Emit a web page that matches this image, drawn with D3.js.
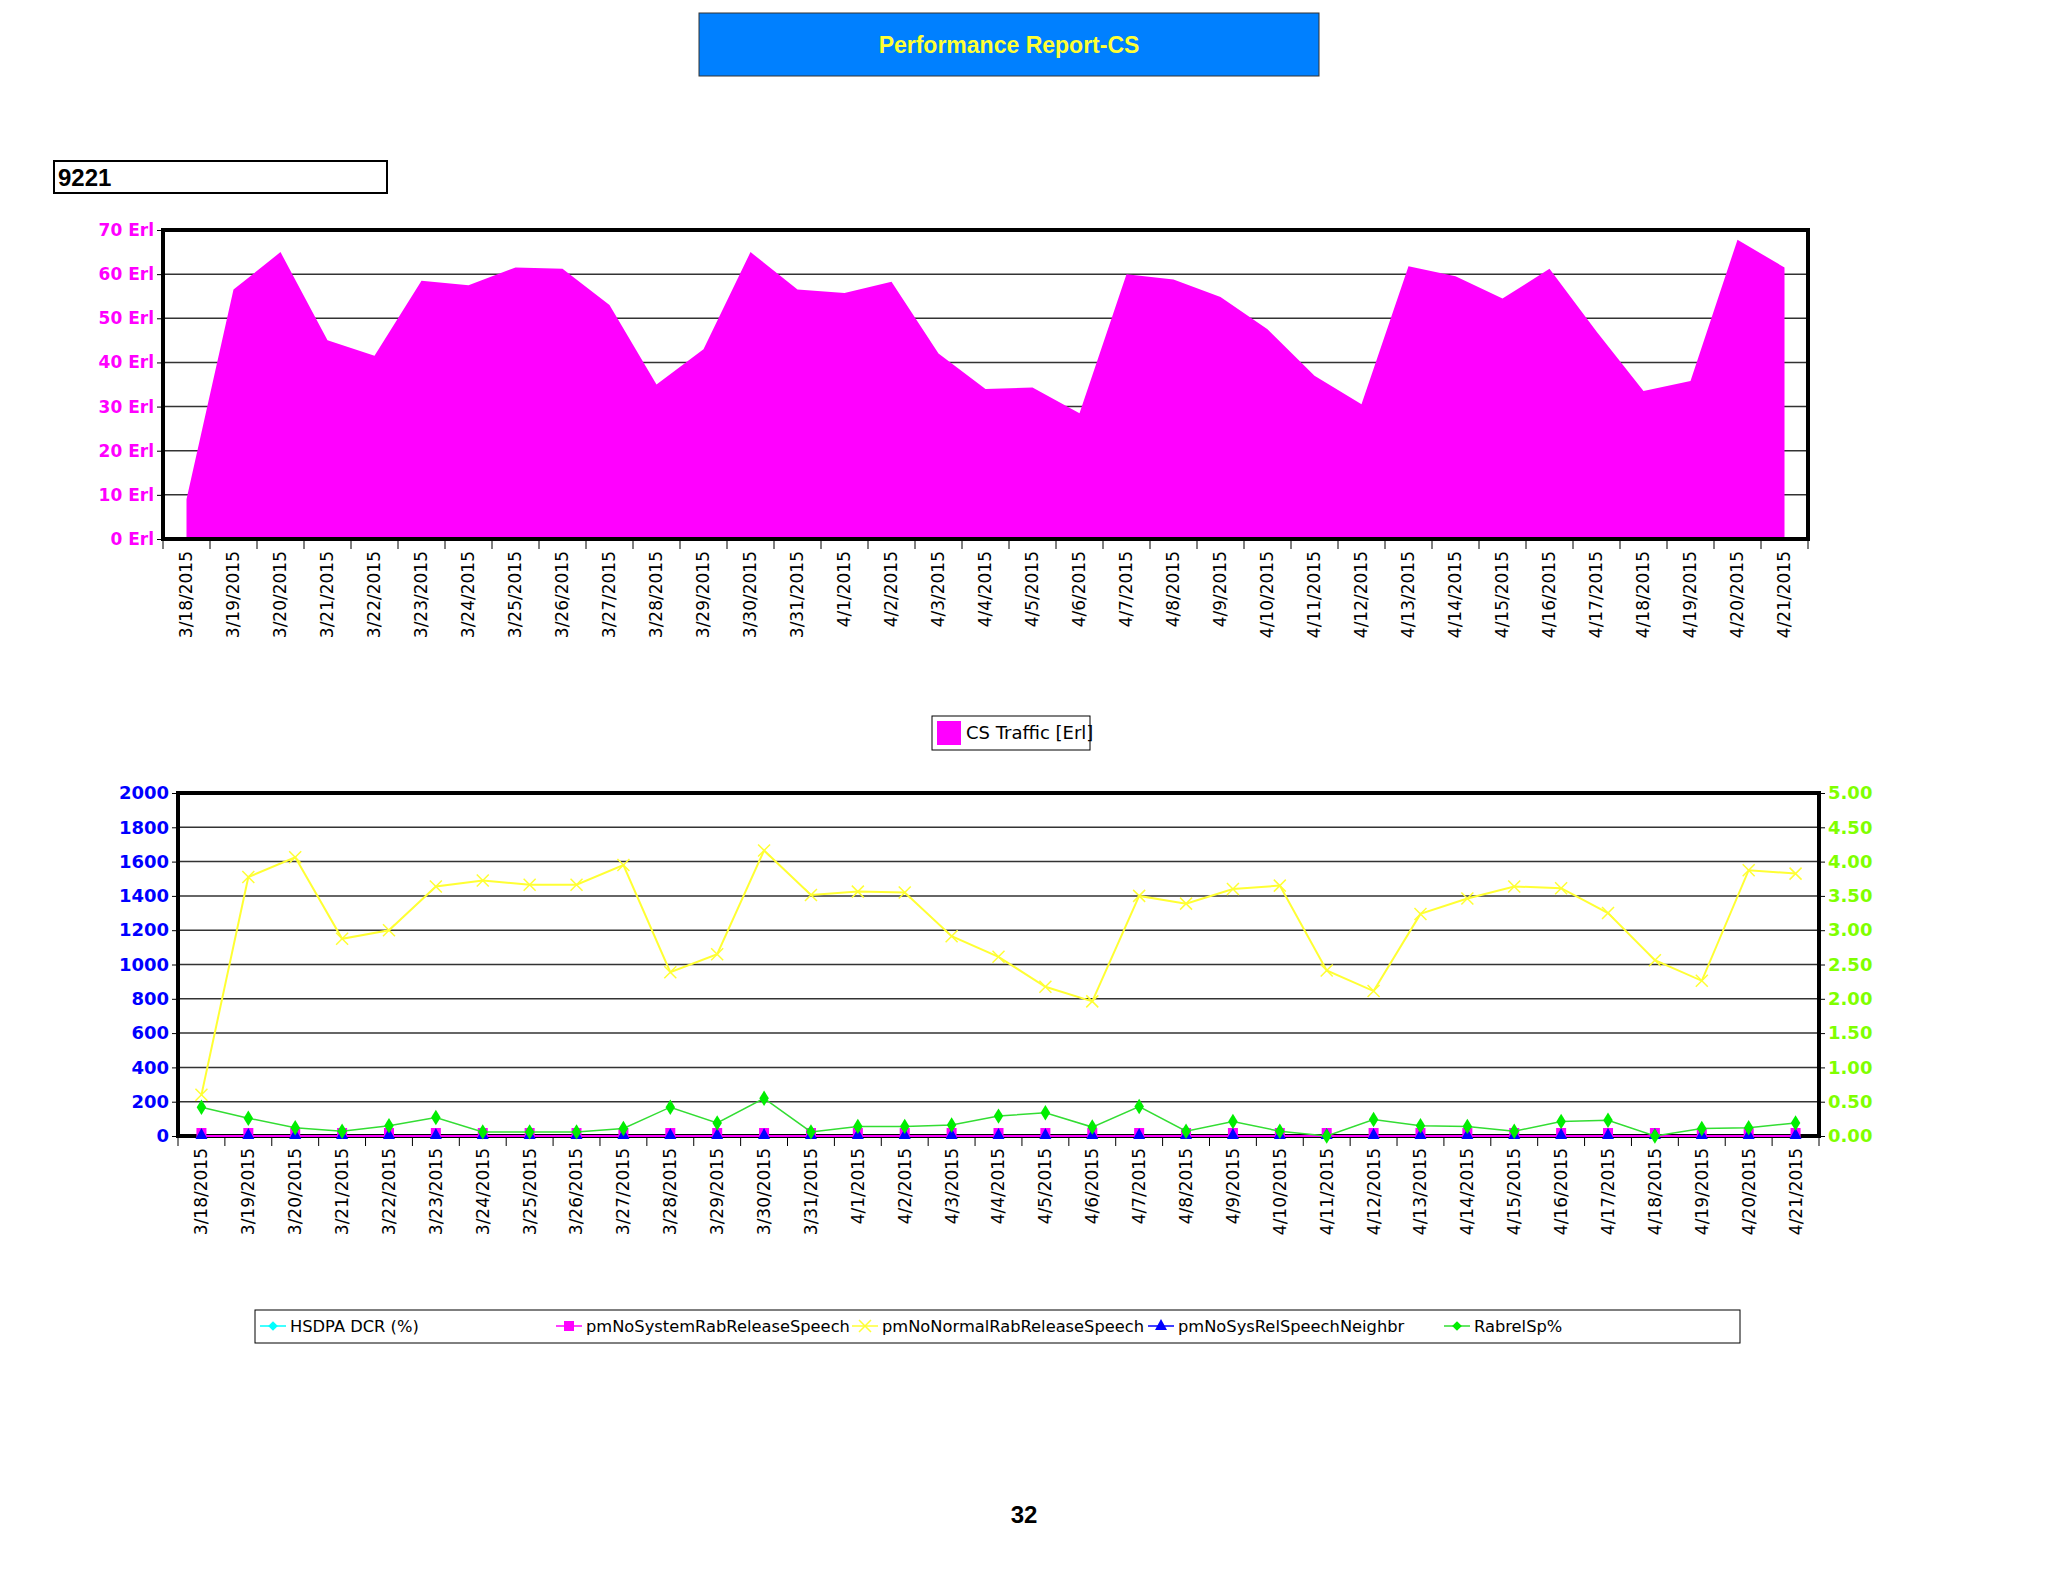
<!DOCTYPE html>
<html><head><meta charset="utf-8">
<script src="https://cdn.jsdelivr.net/npm/d3@7"></script>
<style>body{margin:0;background:#fff}</style></head>
<body><svg id="c" width="2048" height="1582"></svg>
<script>
const dates=["3/18/2015","3/19/2015","3/20/2015","3/21/2015","3/22/2015","3/23/2015","3/24/2015","3/25/2015","3/26/2015","3/27/2015","3/28/2015","3/29/2015","3/30/2015","3/31/2015","4/1/2015","4/2/2015","4/3/2015","4/4/2015","4/5/2015","4/6/2015","4/7/2015","4/8/2015","4/9/2015","4/10/2015","4/11/2015","4/12/2015","4/13/2015","4/14/2015","4/15/2015","4/16/2015","4/17/2015","4/18/2015","4/19/2015","4/20/2015","4/21/2015"];
const csTraffic=[9,56.5,65,45,41.5,58.5,57.5,61.5,61.2,53,35,43,65,56.5,55.7,58.3,42,34,34.3,28.5,60,58.8,54.8,47.5,37,30.5,61.8,59.5,54.5,61.2,47,33.5,35.8,67.8,61.5];
const normalRel=[240,1510,1625,1150,1200,1455,1490,1465,1465,1580,955,1060,1665,1405,1425,1420,1165,1045,870,785,1400,1355,1440,1460,965,845,1295,1385,1455,1445,1300,1025,905,1550,1530];
const rabrelSp=[0.42,0.26,0.12,0.07,0.15,0.27,0.06,0.06,0.06,0.11,0.42,0.19,0.55,0.06,0.14,0.14,0.16,0.29,0.34,0.13,0.43,0.07,0.21,0.07,0.0,0.24,0.15,0.14,0.07,0.21,0.23,0.0,0.11,0.12,0.19];
const sysRel=dates.map(()=>0);
const sysRelNeigh=dates.map(()=>0);
const topTicks=[0,10,20,30,40,50,60,70];
const leftTicks=[0,200,400,600,800,1000,1200,1400,1600,1800,2000];
const rightTicks=[0,0.5,1,1.5,2,2.5,3,3.5,4,4.5,5];

const svg=d3.select("#c");
svg.append("rect").attr("x",699).attr("y",13).attr("width",620).attr("height",63).attr("fill","#0080ff").attr("stroke","#333");
svg.append("text").attr("x",1009).attr("y",53).attr("text-anchor","middle").attr("fill","#ffff33").attr("font-family","Liberation Sans,Arial").attr("font-weight","bold").attr("font-size",23).text("Performance Report-CS");
svg.append("rect").attr("x",54).attr("y",161).attr("width",333).attr("height",32).attr("fill","#fff").attr("stroke","#000").attr("stroke-width",2);
svg.append("text").attr("x",58).attr("y",186).attr("font-family","Liberation Sans,Arial").attr("font-weight","bold").attr("font-size",24).text("9221");

const L1=163,R1=1808,T1=230,B1=539;
const x1=d3.scaleBand().domain(dates).range([L1,R1]);
const y1=d3.scaleLinear().domain([0,70]).range([B1,T1]);
const g1=svg.append("g");
g1.selectAll(".gl").data(topTicks).join("line").attr("x1",L1).attr("x2",R1).attr("y1",d=>y1(d)).attr("y2",d=>y1(d)).attr("stroke","#333").attr("stroke-width",1.5);
g1.append("path").datum(csTraffic).attr("fill","#ff00ff").attr("d",d3.area().x((d,i)=>x1(dates[i])+x1.bandwidth()/2).y0(B1).y1(d=>y1(d)));
g1.append("rect").attr("x",L1).attr("y",T1).attr("width",R1-L1).attr("height",B1-T1).attr("fill","none").attr("stroke","#000").attr("stroke-width",4);
const ay1=g1.append("g").attr("transform",`translate(${L1},0)`).call(d3.axisLeft(y1).tickValues(topTicks).tickFormat(d=>d+" Erl").tickSize(6));
ay1.selectAll("text").attr("fill","#ff00ff").attr("font-family","Verdana,DejaVu Sans").attr("font-weight","bold").attr("font-size",17);
ay1.select(".domain").remove();
const ax1=g1.append("g").attr("transform",`translate(0,${B1})`).call(d3.axisBottom(x1).tickSize(0));
ax1.select(".domain").remove();
ax1.selectAll("text").attr("transform","rotate(-90)").attr("text-anchor","end").attr("x",-12).attr("y",0).attr("dy","0.35em").attr("font-family","DejaVu Sans").attr("font-size",17).attr("fill","#000");
g1.selectAll(".tk").data(dates.concat(["end"])).join("line").attr("x1",(d,i)=>L1+i*x1.step()).attr("x2",(d,i)=>L1+i*x1.step()).attr("y1",B1).attr("y2",B1+10).attr("stroke","#000");

svg.append("rect").attr("x",932).attr("y",716).attr("width",158).attr("height",34).attr("fill","#fff").attr("stroke","#000");
svg.append("rect").attr("x",937).attr("y",721).attr("width",24).attr("height",24).attr("fill","#ff00ff");
svg.append("text").attr("x",966).attr("y",739).attr("font-family","DejaVu Sans").attr("font-size",18).text("CS Traffic [Erl]");

const L2=178,R2=1819,T2=793,B2=1136;
const x2=d3.scaleBand().domain(dates).range([L2,R2]);
const cx=d=>x2(d)+x2.bandwidth()/2;
const y2=d3.scaleLinear().domain([0,2000]).range([B2,T2]);
const y3=d3.scaleLinear().domain([0,5]).range([B2,T2]);
const g2=svg.append("g");
g2.selectAll(".gl").data(leftTicks).join("line").attr("x1",L2).attr("x2",R2).attr("y1",d=>y2(d)).attr("y2",d=>y2(d)).attr("stroke","#333").attr("stroke-width",1.5);
g2.append("rect").attr("x",L2).attr("y",T2).attr("width",R2-L2).attr("height",B2-T2).attr("fill","none").attr("stroke","#000").attr("stroke-width",4);
const ay2=g2.append("g").attr("transform",`translate(${L2},0)`).call(d3.axisLeft(y2).tickValues(leftTicks).tickFormat(d3.format("d")).tickSize(6));
ay2.select(".domain").remove();
ay2.selectAll("text").attr("fill","#0000ff").attr("font-family","Verdana,DejaVu Sans").attr("font-weight","bold").attr("font-size",18);
const ay3=g2.append("g").attr("transform",`translate(${R2},0)`).call(d3.axisRight(y3).tickValues(rightTicks).tickFormat(d3.format(".2f")).tickSize(6));
ay3.select(".domain").remove();
ay3.selectAll("text").attr("fill","#80ff00").attr("font-family","Verdana,DejaVu Sans").attr("font-weight","bold").attr("font-size",18);
const ax2=g2.append("g").attr("transform",`translate(0,${B2})`).call(d3.axisBottom(x2).tickSize(0));
ax2.select(".domain").remove();
ax2.selectAll("text").attr("transform","rotate(-90)").attr("text-anchor","end").attr("x",-12).attr("y",0).attr("dy","0.35em").attr("font-family","DejaVu Sans").attr("font-size",17).attr("fill","#000");
g2.selectAll(".tk").data(dates.concat(["end"])).join("line").attr("x1",(d,i)=>L2+i*x2.step()).attr("x2",(d,i)=>L2+i*x2.step()).attr("y1",B2).attr("y2",B2+10).attr("stroke","#000");

g2.append("path").datum(normalRel).attr("fill","none").attr("stroke","#ffff33").attr("stroke-width",2).attr("d",d3.line().x((d,i)=>cx(dates[i])).y(d=>y2(d)));
const X=(g,cxp,cyp,s,col)=>g.append("path").attr("d",`M${cxp-s},${cyp-s}L${cxp+s},${cyp+s}M${cxp-s},${cyp+s}L${cxp+s},${cyp-s}`).attr("stroke",col).attr("stroke-width",1.5);
normalRel.forEach((d,i)=>X(g2,cx(dates[i]),y2(d),6,"#ffff33"));
g2.append("path").datum(sysRel).attr("fill","none").attr("stroke","#ff00ff").attr("stroke-width",2).attr("d",d3.line().x((d,i)=>cx(dates[i])).y(d=>y2(d)));
sysRel.forEach((d,i)=>g2.append("rect").attr("x",cx(dates[i])-5).attr("y",y2(d)-8).attr("width",10).attr("height",10).attr("fill","#ff00ff"));
sysRelNeigh.forEach((d,i)=>g2.append("path").attr("d",`M${cx(dates[i])},${y2(d)-8}L${cx(dates[i])+6},${y2(d)+3}L${cx(dates[i])-6},${y2(d)+3}Z`).attr("fill","#0000ff"));
g2.append("path").datum(rabrelSp).attr("fill","none").attr("stroke","#33dd33").attr("stroke-width",1.5).attr("d",d3.line().x((d,i)=>cx(dates[i])).y(d=>y3(d)));
rabrelSp.forEach((d,i)=>g2.append("path").attr("d",d3.symbol(d3.symbolDiamond2,90)()).attr("transform",`translate(${cx(dates[i])},${y3(d)}) scale(0.8,1.3)`).attr("fill","#00ee00"));

const lg=svg.append("g");
lg.append("rect").attr("x",255).attr("y",1310).attr("width",1485).attr("height",33).attr("fill","#fff").attr("stroke","#000");
const items=[["HSDPA DCR (%)","#00ffff","diamond",260],["pmNoSystemRabReleaseSpeech","#ff00ff","square",556],["pmNoNormalRabReleaseSpeech","#ffff33","x",852],["pmNoSysRelSpeechNeighbr","#0000ff","tri",1148],["RabrelSp%","#00ee00","diamond",1444]];
items.forEach(([t,c,s,x])=>{
 const y=1326;
 lg.append("line").attr("x1",x).attr("x2",x+26).attr("y1",y).attr("y2",y).attr("stroke",c==="#00ee00"?"#33dd33":c).attr("stroke-width",1.5);
 const m=x+13;
 if(s==="diamond") lg.append("path").attr("d",d3.symbol(d3.symbolDiamond2,60)()).attr("transform",`translate(${m},${y})`).attr("fill",c);
 if(s==="square") lg.append("rect").attr("x",m-5).attr("y",y-5).attr("width",10).attr("height",10).attr("fill",c);
 if(s==="x") X(lg,m,y,6,c);
 if(s==="tri") lg.append("path").attr("d",`M${m},${y-7}L${m+6},${y+4}L${m-6},${y+4}Z`).attr("fill",c);
 lg.append("text").attr("x",x+30).attr("y",y+6).attr("font-family","DejaVu Sans").attr("font-size",16.3).text(t);
});
svg.append("text").attr("x",1024).attr("y",1523).attr("text-anchor","middle").attr("font-family","Liberation Sans,Arial").attr("font-weight","bold").attr("font-size",24).text("32");
</script></body></html>
